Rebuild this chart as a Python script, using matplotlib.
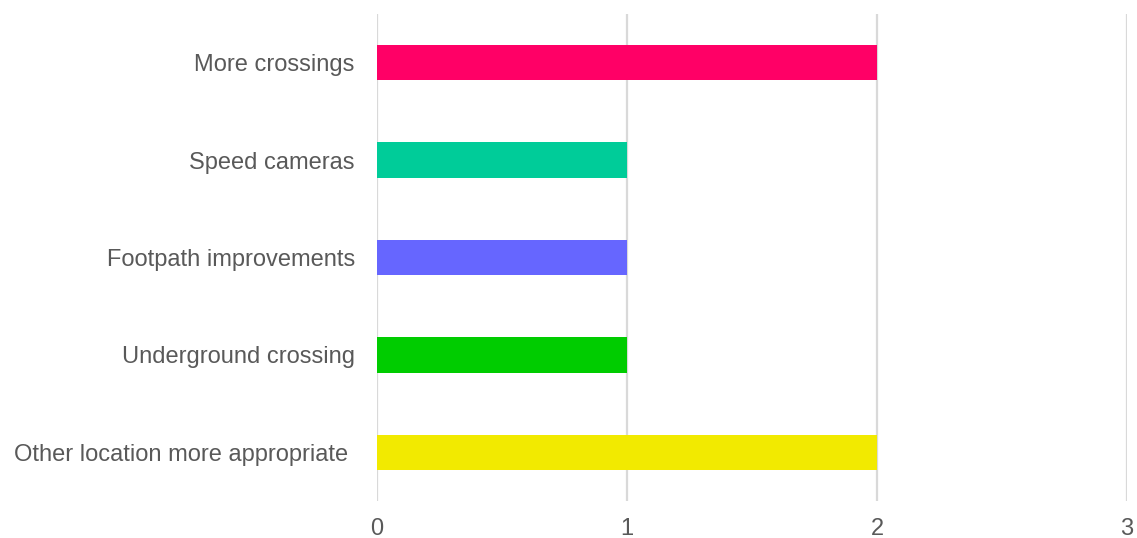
import matplotlib
matplotlib.use("Agg")
import matplotlib.pyplot as plt

categories = ["More crossings", "Speed cameras", "Footpath improvements",
              "Underground crossing", "Other location more appropriate "]
values = [2, 1, 1, 1, 2]
colors = ["#FF0066", "#00CC99", "#6666FF", "#00CC00", "#F2EA00"]
x_ticks = [0, 1, 2, 3]

plt.rcParams['font.family'] = ['Liberation Sans', 'DejaVu Sans']

fig = plt.figure(figsize=(11.37, 5.38), dpi=100)
ax = fig.add_axes([377/1137, 1 - 501.25/538, 750/1137, 487.5/538])

ypos = list(range(len(categories)))
ax.barh(ypos, values, height=0.36, color=colors, zorder=3)
ax.set_ylim(len(categories) - 0.5, -0.5)
ax.set_xlim(0, 3)
ax.set_xticks(x_ticks)
ax.set_xticklabels([str(t) for t in x_ticks])
ax.set_yticks(ypos)
ax.set_yticklabels(categories)
ax.xaxis.grid(True, color="#D9D9D9", linewidth=1.6, zorder=0)
ax.set_axisbelow(True)
for s in ax.spines.values():
    s.set_visible(False)
ax.tick_params(axis='both', length=0, labelsize=17, colors="#595959")
ax.tick_params(axis='x', pad=12)
ax.tick_params(axis='y', pad=16)

fig.savefig("out.png", dpi=100, facecolor="white")
